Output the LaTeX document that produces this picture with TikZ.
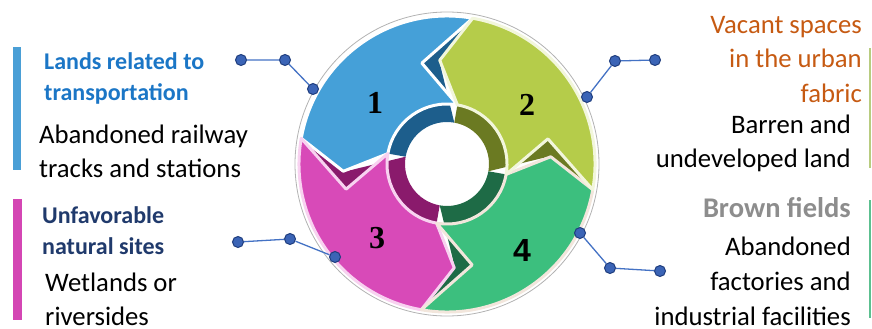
\documentclass[tikz,border=0pt]{standalone}
\usepackage{fontspec}
\setmainfont{Carlito}
\newfontfamily\numserif{Liberation Serif}
\newfontfamily\numsans{Liberation Sans}

\definecolor{segblue}{HTML}{45A0D8}
\definecolor{segblueD}{HTML}{1D5E8C}
\definecolor{seglime}{HTML}{B5CC4A}
\definecolor{seglimeD}{HTML}{6B7A22}
\definecolor{segpink}{HTML}{D84AB8}
\definecolor{segpinkD}{HTML}{8A1A6C}
\definecolor{seggreen}{HTML}{3CBF7E}
\definecolor{seggreenD}{HTML}{1E6B46}
\definecolor{rimblue}{HTML}{FFFFFF}
\definecolor{rimlime}{HTML}{F2F6DC}
\definecolor{rimpink}{HTML}{F8D2F0}
\definecolor{rimgreen}{HTML}{F2E6DC}
\definecolor{linkblue}{HTML}{4472C4}
\definecolor{dotfill}{HTML}{3B64B6}
\definecolor{dotedge}{HTML}{1F3D7E}
\definecolor{headblue}{HTML}{1B76C6}
\definecolor{headnavy}{HTML}{203A6C}
\definecolor{headorange}{HTML}{C65A12}
\definecolor{headgray}{HTML}{8D8D8D}
\definecolor{barblue}{HTML}{4A9FD6}
\definecolor{barpink}{HTML}{D446B4}
\definecolor{barlime}{HTML}{B8CC80}
\definecolor{bargreen}{HTML}{5CC090}

\tikzset{
  dot/.style={circle, fill=dotfill, draw=dotedge, line width=1pt, inner sep=0pt, minimum width=11pt, minimum height=10pt},
  link/.style={linkblue, line width=1.3pt},
  body/.style={font=\fontsize{26.7}{34}\selectfont, inner sep=0pt},
  heading/.style={font=\fontsize{24}{31}\selectfont\bfseries, inner sep=0pt},
  numlabel/.style={font=\fontsize{32}{32}\selectfont\bfseries\numserif, inner sep=0pt},
}

\begin{document}
\begin{tikzpicture}[x=1pt, y=-1pt]
\useasboundingbox (0,0) rectangle (872,329);

% ring of four arrows
\begin{scope}[shift={(447,164)}, yscale=-1]
  \draw[gray!60, line width=0.8pt] (0,0) circle (152);
  \foreach \a/\side in {80/segblueD, 170/segpinkD, 260/seggreenD, 350/seglimeD}
    \fill[\side] (\a:142) arc[start angle=\a, end angle=\a+90, radius=142]
      -- ({\a+90}:42) arc[start angle=\a+90, end angle=\a, radius=42]
      -- ({\a+14}:100) -- cycle;
  \foreach \a/\face/\rim in {80/segblue/rimblue, 170/segpink/rimpink, 260/seggreen/rimgreen, 350/seglime/rimlime}
    \filldraw[fill=\face, draw=\rim, line width=3pt, line join=round]
      (\a:148) arc[start angle=\a, end angle=\a+90, radius=148]
      -- ({\a+104}:104) -- ({\a+90}:60)
      arc[start angle=\a+90, end angle=\a, radius=60]
      -- ({\a+24}:104) -- cycle;
\end{scope}

\node[numlabel] (n1) at (375,103) {1};
\node[numlabel] (n2) at (527,105) {2};
\node[numlabel] (n3) at (377,238) {3};
\node[numlabel, font=\fontsize{32}{32}\selectfont\bfseries\numsans] (n4) at (522,250) {4};

% connectors
\node[dot] (lt1) at (241,60) {};
\node[dot] (lt2) at (285,60) {};
\node[dot] (lt3) at (313,89) {};
\draw[link] (lt1) -- (lt2) -- (lt3);

\node[dot] (rt1) at (655,60) {};
\node[dot] (rt2) at (615,61) {};
\node[dot] (rt3) at (587,97) {};
\draw[link] (rt1) -- (rt2) -- (rt3);

\node[dot] (lb1) at (238,242) {};
\node[dot] (lb2) at (290,239) {};
\node[dot] (lb3) at (335,257) {};
\draw[link] (lb1) -- (lb2) -- (lb3);

\node[dot] (rb1) at (660,271) {};
\node[dot] (rb2) at (610,268) {};
\node[dot] (rb3) at (580,233) {};
\draw[link] (rb1) -- (rb2) -- (rb3);

% side bars
\fill[barblue] (13,47) rectangle (21,170);
\fill[barpink] (13,199) rectangle (22,320);
\fill[barlime] (869,48) rectangle (871,168);
\fill[bargreen] (869,200) rectangle (871,318);

% texts (base = last line)
\node[heading, headblue, anchor=base west, align=left] (landsH) at (44,100) {Lands related to\\transportation};
\node[body, anchor=base west, align=left] (landsB) at (39,177) {Abandoned railway\\tracks and stations};

\node[heading, headnavy, anchor=base west, align=left] (sitesH) at (42,254) {Unfavorable\\natural sites};
\node[body, anchor=base west, align=left] (sitesB) at (45,325) {Wetlands or\\riversides};

\node[body, font=\fontsize{26.7}{34.5}\selectfont, headorange, anchor=base east, align=right] (vacantH) at (862,102) {Vacant spaces\\in the urban\\fabric};
\node[body, anchor=base east, align=right] (vacantB) at (851,167) {Barren and\\undeveloped land};

\node[heading, headgray, font=\fontsize{28.5}{30}\selectfont\bfseries, anchor=base east] (brownH) at (851,217) {Brown fields};
\node[body, font=\fontsize{26.7}{35}\selectfont, anchor=base east, align=right] (brownB) at (851,325) {Abandoned\\factories and\\industrial facilities};
\end{tikzpicture}
\end{document}
